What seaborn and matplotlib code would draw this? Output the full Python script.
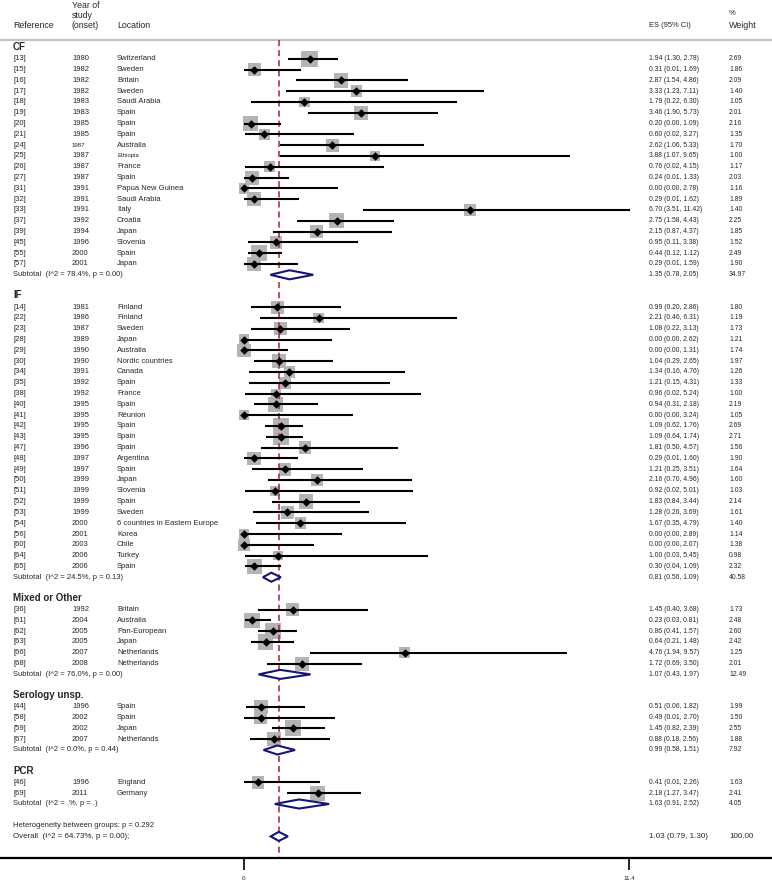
import numpy as np
import pandas as pd
import matplotlib
matplotlib.use("Agg")
import matplotlib.pyplot as plt
import seaborn as sns

# groups, in plotting order
group_names = ["CF", "IF", "Mixed or Other", "Serology unsp.", "PCR"]
group_sizes = [20, 25, 6, 4, 2]

refs = ["[13]", "[15]", "[16]", "[17]", "[18]", "[19]", "[20]", "[21]", "[24]", "[25]",
        "[26]", "[27]", "[31]", "[32]", "[33]", "[37]", "[39]", "[45]", "[55]", "[57]",
        "[14]", "[22]", "[23]", "[28]", "[29]", "[30]", "[34]", "[35]", "[38]", "[40]",
        "[41]", "[42]", "[43]", "[47]", "[48]", "[49]", "[50]", "[51]", "[52]", "[53]",
        "[54]", "[56]", "[60]", "[64]", "[65]",
        "[36]", "[61]", "[62]", "[63]", "[66]", "[68]",
        "[44]", "[58]", "[59]", "[67]",
        "[46]", "[69]"]
years = ["1980", "1982", "1982", "1982", "1983", "1983", "1985", "1985", "1987", "1987",
         "1987", "1987", "1991", "1991", "1991", "1992", "1994", "1996", "2000", "2001",
         "1981", "1986", "1987", "1989", "1990", "1990", "1991", "1992", "1992", "1995",
         "1995", "1995", "1995", "1996", "1997", "1997", "1999", "1999", "1999", "1999",
         "2000", "2001", "2003", "2006", "2006",
         "1992", "2004", "2005", "2005", "2007", "2008",
         "1996", "2002", "2002", "2007",
         "1996", "2011"]
locations = ["Switzerland", "Sweden", "Britain", "Sweden", "Saudi Arabia", "Spain", "Spain",
             "Spain", "Australia", "Ethiopia", "France", "Spain", "Papua New Guinea",
             "Saudi Arabia", "Italy", "Croatia", "Japan", "Slovenia", "Spain", "Japan",
             "Finland", "Finland", "Sweden", "Japan", "Australia", "Nordic countries",
             "Canada", "Spain", "France", "Spain", "Réunion", "Spain", "Spain", "Spain",
             "Argentina", "Spain", "Japan", "Slovenia", "Spain", "Sweden",
             "6 countries in Eastern Europe", "Korea", "Chile", "Turkey", "Spain",
             "Britain", "Australia", "Pan-European", "Japan", "Netherlands", "Netherlands",
             "Spain", "Spain", "Japan", "Netherlands",
             "England", "Germany"]
es = [1.94, 0.31, 2.87, 3.33, 1.79, 3.46, 0.20, 0.60, 2.62, 3.88,
      0.76, 0.24, 0.00, 0.29, 6.70, 2.75, 2.15, 0.95, 0.44, 0.29,
      0.99, 2.21, 1.08, 0.00, 0.00, 1.04, 1.34, 1.21, 0.96, 0.94,
      0.00, 1.09, 1.09, 1.81, 0.29, 1.21, 2.16, 0.92, 1.83, 1.28,
      1.67, 0.00, 0.00, 1.00, 0.30,
      1.45, 0.23, 0.86, 0.64, 4.76, 1.72,
      0.51, 0.49, 1.45, 0.88,
      0.41, 2.18]
ci_lo = [1.30, 0.01, 1.54, 1.23, 0.22, 1.90, 0.00, 0.02, 1.06, 1.07,
         0.02, 0.01, 0.00, 0.01, 3.51, 1.58, 0.87, 0.11, 0.12, 0.01,
         0.20, 0.46, 0.22, 0.00, 0.00, 0.29, 0.16, 0.15, 0.02, 0.31,
         0.00, 0.62, 0.64, 0.50, 0.01, 0.25, 0.70, 0.02, 0.84, 0.26,
         0.35, 0.00, 0.00, 0.03, 0.04,
         0.40, 0.03, 0.41, 0.21, 1.94, 0.69,
         0.06, 0.01, 0.82, 0.18,
         0.01, 1.27]
ci_hi = [2.78, 1.69, 4.86, 7.11, 6.30, 5.73, 1.09, 3.27, 5.33, 9.65,
         4.15, 1.33, 2.78, 1.62, 11.42, 4.43, 4.37, 3.38, 1.12, 1.59,
         2.86, 6.31, 3.13, 2.62, 1.31, 2.65, 4.76, 4.31, 5.24, 2.18,
         3.24, 1.76, 1.74, 4.57, 1.60, 3.51, 4.96, 5.01, 3.44, 3.69,
         4.79, 2.89, 2.07, 5.45, 1.09,
         3.68, 0.81, 1.57, 1.48, 9.57, 3.50,
         1.82, 2.70, 2.39, 2.56,
         2.26, 3.47]
weights = [2.69, 1.86, 2.09, 1.40, 1.05, 2.01, 2.16, 1.35, 1.70, 1.00,
           1.17, 2.03, 1.16, 1.89, 1.40, 2.25, 1.85, 1.52, 2.49, 1.90,
           1.80, 1.19, 1.73, 1.21, 1.74, 1.97, 1.26, 1.33, 1.00, 2.19,
           1.05, 2.69, 2.71, 1.56, 1.90, 1.64, 1.60, 1.03, 2.14, 1.61,
           1.40, 1.14, 1.38, 0.98, 2.32,
           1.73, 2.48, 2.60, 2.42, 1.25, 2.01,
           1.99, 1.50, 2.55, 1.88,
           1.63, 2.41]

sub_labels = ["Subtotal  (I^2 = 78.4%, p = 0.00)", "Subtotal  (I^2 = 24.5%, p = 0.13)",
              "Subtotal  (I^2 = 76.0%, p = 0.00)", "Subtotal  (I^2 = 0.0%, p = 0.44)",
              "Subtotal  (I^2 = .%, p = .)"]
sub_es = [1.35, 0.81, 1.07, 0.99, 1.63]
sub_lo = [0.78, 0.56, 0.43, 0.58, 0.91]
sub_hi = [2.05, 1.09, 1.97, 1.51, 2.52]
sub_wt = [34.97, 40.58, 12.49, 7.92, 4.05]

overall_es, overall_lo, overall_hi, overall_wt = 1.03, 0.79, 1.30, 100.00
het_text = "Heterogeneity between groups: p = 0.292"
overall_text = "Overall  (I^2 = 64.73%, p = 0.00);"

x_ticks = [0, 11.4]
x_ticklabels = ["0", "11.4"]

# row layout: header, studies, subtotal, blank line
rows, header_rows, sub_rows = [], [], []
r = 0
for n in group_sizes:
    header_rows.append(r)
    rows.extend(range(r + 1, r + 1 + n))
    sub_rows.append(r + n + 1)
    r += n + 3
het_row, overall_row = r, r + 1

df = pd.DataFrame({"row": rows, "es": es, "lo": ci_lo, "hi": ci_hi, "w": weights})

sns.set_style("white")
plt.rcParams["font.family"] = ["Liberation Sans", "DejaVu Sans"]

fig = plt.figure(figsize=(7.72, 8.83), dpi=100)
ax = fig.add_axes([0, 25 / 883, 1, 858 / 883])

px_per_unit = 385 / 11.4
ax.set_xlim(-244 / px_per_unit, (772 - 244) / px_per_unit)
ax.set_ylim(75, -48 / 10.8)

# header rule and reference line
ax.axhline(-0.74, color="#c4c4c4", lw=1.6, zorder=1)
ax.vlines(overall_es, -0.74, 75, colors="#b01c34", lw=1.1,
          linestyles=(0, (4, 2.6)), zorder=2)

# weighted boxes, CIs and point estimates
a = 50.8
sns.scatterplot(data=df, x="es", y="row", size="w", sizes=(a * min(weights), a * max(weights)),
                size_norm=(min(weights), max(weights)), marker="s", color="#b4b4b4",
                linewidth=0, legend=False, ax=ax, zorder=1.5)
ax.hlines(df["row"], df["lo"], df["hi"], colors="black", lw=1.5, zorder=3)
sns.scatterplot(data=df, x="es", y="row", marker="D", color="black", s=19,
                linewidth=0, legend=False, ax=ax, zorder=4)

# pooled diamonds
h = 0.42
for y, e, lo, hi in list(zip(sub_rows, sub_es, sub_lo, sub_hi)) + \
        [(overall_row, overall_es, overall_lo, overall_hi)]:
    ax.fill([lo, e, hi, e], [y, y - h, y, y + h], facecolor="white",
            edgecolor="#14147a", lw=1.5, zorder=4)

ytr = ax.get_yaxis_transform()
cx = {"ref": 13 / 772, "year": 72 / 772, "loc": 117 / 772, "es": 649 / 772, "wt": 729 / 772}
fs = 5.5
fs_es = 4.9
fs_head = 6.3

# column headers
ax.text(cx["year"], -3.95, "Year of", transform=ytr, fontsize=fs_head, va="center")
ax.text(cx["year"], -3.0, "study", transform=ytr, fontsize=fs_head, va="center")
ax.text(cx["wt"], -3.2, "%", transform=ytr, fontsize=5.5, va="center")
ax.text(cx["ref"], -2.04, "Reference", transform=ytr, fontsize=fs_head, va="center")
ax.text(cx["year"], -2.04, "(onset)", transform=ytr, fontsize=fs_head, va="center")
ax.text(cx["loc"], -2.04, "Location", transform=ytr, fontsize=fs_head, va="center")
ax.text(cx["es"], -2.04, "ES (95% CI)", transform=ytr, fontsize=5.4, va="center")
ax.text(cx["wt"], -2.04, "Weight", transform=ytr, fontsize=6.4, va="center")

for y, g in zip(header_rows, group_names):
    ax.text(cx["ref"], y - 0.1, g, transform=ytr, fontsize=7, fontweight="bold", va="center")

for i, y in enumerate(rows):
    ax.text(cx["ref"], y, refs[i], transform=ytr, fontsize=fs, va="center")
    ax.text(cx["year"], y, years[i], transform=ytr, fontsize=4.3 if refs[i] == "[24]" else fs,
            va="center")
    ax.text(cx["loc"], y, locations[i], transform=ytr, fontsize=4.3 if refs[i] == "[25]" else fs,
            va="center")
    ax.text(cx["es"], y, f"{es[i]:.2f} ({ci_lo[i]:.2f}, {ci_hi[i]:.2f})", transform=ytr,
            fontsize=fs_es, va="center")
    ax.text(cx["wt"], y, f"{weights[i]:.2f}", transform=ytr, fontsize=fs_es, va="center")

for y, lab, e, lo, hi, w in zip(sub_rows, sub_labels, sub_es, sub_lo, sub_hi, sub_wt):
    ax.text(cx["ref"], y, lab, transform=ytr, fontsize=fs, va="center")
    ax.text(cx["es"], y, f"{e:.2f} ({lo:.2f}, {hi:.2f})", transform=ytr, fontsize=fs_es, va="center")
    ax.text(cx["wt"], y, f"{w:.2f}", transform=ytr, fontsize=fs_es, va="center")

ax.text(cx["ref"], het_row, het_text, transform=ytr, fontsize=fs, va="center")
ax.text(cx["ref"], overall_row, overall_text, transform=ytr, fontsize=5.7, va="center")
ax.text(cx["es"], overall_row, f"{overall_es:.2f} ({overall_lo:.2f}, {overall_hi:.2f})",
        transform=ytr, fontsize=5.8, va="center")
ax.text(cx["wt"], overall_row, f"{overall_wt:.2f}", transform=ytr, fontsize=5.8, va="center")

# axis styling
for side in ["top", "left", "right"]:
    ax.spines[side].set_visible(False)
ax.spines["bottom"].set_linewidth(1.6)
ax.spines["bottom"].set_color("black")
ax.set_xticks(x_ticks)
ax.set_xticklabels(x_ticklabels)
ax.set_yticks([])
ax.tick_params(axis="x", bottom=True, length=8.6, width=1.2, labelsize=4.5, pad=4, color="black")
ax.set_xlabel("")
ax.set_ylabel("")

fig.savefig("out.png", dpi=100)
